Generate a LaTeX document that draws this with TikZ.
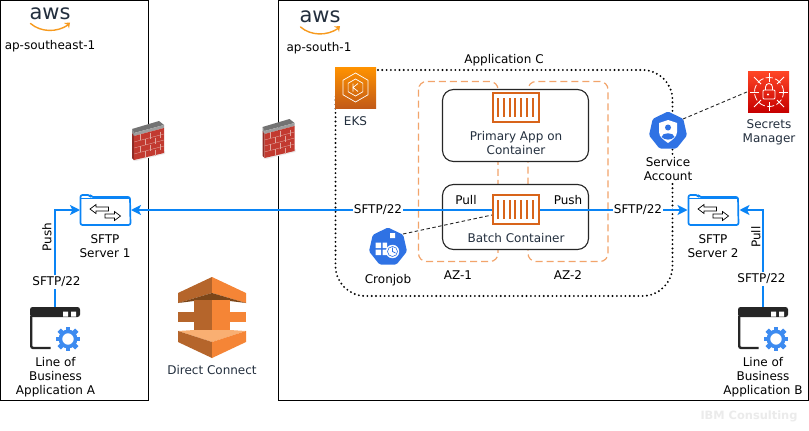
\documentclass[tikz,border=0pt]{standalone}
\usepackage{fontspec}
\setmainfont{DejaVu Sans}
\usetikzlibrary{arrows.meta,calc}
\definecolor{sftpblue}{HTML}{0A84F5}
\definecolor{azorange}{HTML}{F2A46B}
\definecolor{ctr}{HTML}{D8641A}
\definecolor{awsink}{HTML}{232F3E}
\definecolor{k8sblue}{HTML}{2F72E4}
\definecolor{gearblue}{HTML}{3D8BF0}
\definecolor{wink}{HTML}{262626}
\definecolor{dcA}{HTML}{F58536}
\definecolor{dcB}{HTML}{B5652B}
\definecolor{dcC}{HTML}{7C4619}
\definecolor{dcD}{HTML}{F9AF72}
\definecolor{brick}{HTML}{C23A30}
\definecolor{brickd}{HTML}{8E2C26}
\definecolor{mortar}{HTML}{E0A79F}
\definecolor{smile}{HTML}{F79A1E}
\tikzset{
  region/.style={draw=black,line width=1pt},
  dotbox/.style={draw=black,line width=2.1pt,line cap=round,dash pattern=on 0pt off 4.3pt,rounded corners=30pt},
  azbox/.style={draw=azorange,line width=1.2pt,dash pattern=on 7pt off 4pt,rounded corners=8pt},
  appbox/.style={draw=black!85,fill=white,line width=1.1pt,rounded corners=11pt},
  flow/.style={draw=sftpblue,line width=1.7pt},
  tip/.style={-{Stealth[length=10pt,width=10pt,inset=2.5pt]}},
  bitip/.style={{Stealth[length=10pt,width=10pt,inset=2.5pt]}-},
  thin dash/.style={draw=wink,line width=0.9pt,dash pattern=on 3.5pt off 2.5pt},
  lbl/.style={font=\fontsize{12}{14}\selectfont,align=center,inner sep=0pt,text=black},
  awslbl/.style={lbl,text=awsink},
  onwire/.style={lbl,fill=white,inner xsep=0.5pt,inner ysep=1.5pt},
  spot/.style={inner sep=0pt,outer sep=0pt,rectangle},
}
\newcommand{\awslogo}[3]{\begin{scope}[shift={(#2,#3)}]
  \node[inner sep=0pt,text=awsink,font=\fontsize{21}{21}\selectfont] (#1) at (18,9.5) {aws};
  \draw[draw=smile,line width=1.4pt,line cap=round] (-1.5,19.5) .. controls (9,28.5) and (25,28.5) .. (36,21);
  \fill[smile] (32,19) -- (38,18.5) -- (37,24.5) -- (35.8,21) -- cycle;
\end{scope}}
\newcommand{\firewall}[2]{\begin{scope}[shift={(#1,#2)}]
  \fill[black!8] (1,39.5) -- (4,40) -- (33,33) -- (33,30) -- cycle;
  \fill[black!55] (0,8) -- (27,0) -- (32,4) -- (2,12) -- cycle;
  \fill[black!38] (2,12) -- (32,4) -- (32,7) -- (2,15) -- cycle;
  \fill[black!45] (0,8) -- (2,12) -- (2,15) -- (0,12) -- cycle;
  \fill[brickd] (0,12) -- (2,15) -- (2,39) -- (0,37) -- cycle;
  \fill[brick] (2,15) -- (32,7) -- (32,32) -- (2,39) -- cycle;
  \foreach \h in {6,12,18}{\draw[mortar,line width=0.35pt] (2,15+\h) -- (32,7+\h);}
  \foreach \c in {8,18,28}{\draw[mortar,line width=0.35pt] (\c,13.4+\c*-0.1) -- (\c,19.4+\c*-0.1) (\c,25.4+\c*-0.1) -- (\c,31.4+\c*-0.1);}
  \foreach \c in {13,23}{\draw[mortar,line width=0.35pt] (\c,19.5+\c*-0.1) -- (\c,25.5+\c*-0.1) (\c,31.5+\c*-0.1) -- (\c,37.5+\c*-0.1);}
\end{scope}}
\newcommand{\folder}[2]{\begin{scope}[shift={(#1,#2)}]
  \draw[sftpblue,line width=1.7pt,rounded corners=2pt,line join=round] (0.5,5) -- (0.5,1) -- (10,1) -- (11,3) -- (50,3) -- (50.5,31) -- (0.5,31) -- cycle;
  \draw[sftpblue,line width=1.3pt] (1,4.3) -- (50,4.3);
  \draw[black,fill=white,line width=0.7pt] (10,15) -- (16,10.5) -- (16,13) -- (28.5,13) -- (28.5,17) -- (16,17) -- (16,19.5) -- cycle;
  \draw[black,fill=white,line width=0.7pt] (40.5,22) -- (34.5,17.5) -- (34.5,20) -- (25,20) -- (25,24) -- (34.5,24) -- (34.5,26.5) -- cycle;
\end{scope}}
\newcommand{\lobicon}[2]{\begin{scope}[shift={(#1,#2)}]
  \fill[wink,rounded corners=2.5pt] (0,10) -- (0,0) -- (50,0) -- (50,10) -- cycle;
  \draw[wink,line width=2.4pt,rounded corners=2pt] (1.2,9) -- (1.2,41) -- (20.5,41);
  \fill[white] (33,4.5) rectangle (38,9.5) (41,4.5) rectangle (46,9.5);
  \draw[gearblue,line width=3.6pt] (38,32) circle (7.6pt);
  \foreach \a in {0,45,...,315}{\fill[gearblue,rotate around={\a:(38,32)}] (35.6,19.6) rectangle (40.4,25);}
\end{scope}}
\newcommand{\containericon}[2]{\begin{scope}[shift={(#1,#2)}]
  \draw[ctr,line width=2.2pt] (1.2,1.2) rectangle (46.8,30);
  \foreach \c in {6,11.8,...,41}{\draw[ctr,line width=2.1pt] (\c,6) -- (\c,25.2);}
\end{scope}}
\newcommand{\heptagon}[3]{\fill[k8sblue,rounded corners=1.5pt,shift={(#1,#2)}] (90:#3pt) -- (38.6:#3pt) -- (-12.9:#3pt) -- (-64.3:#3pt) -- (-115.7:#3pt) -- (-167.1:#3pt) -- (141.4:#3pt) -- cycle;}
\begin{document}
\begin{tikzpicture}[x=1pt,y=-1pt]
\useasboundingbox (0,0) rectangle (809,431);
\fill[white] (0,0) rectangle (809,431);
% regions
\draw[region] (0.5,0) -- (148.5,0) -- (148.5,400.5) -- (0.5,400.5) -- cycle;
\draw[region] (278.5,0.5) -- (808.5,0.5) -- (808.5,400.5) -- (278.5,400.5) -- cycle;
\draw[dotbox] (335.5,70) rectangle (672.5,296);
\draw[azbox] (418.5,81.5) rectangle (498,261.5);
\draw[azbox] (528,81.5) rectangle (608,261.5);
\draw[appbox] (442.5,89.5) rectangle (588.5,161.5);
\draw[appbox] (442.5,184.5) rectangle (588.5,249.5);
% anchors for icons
\node[spot,minimum width=51pt,minimum height=32pt] (srvA) at (105.5,210) {};
\node[spot,minimum width=52pt,minimum height=32pt] (srvB) at (713.5,210) {};
\node[spot,minimum width=48pt,minimum height=32pt] (batch) at (516,210) {};
\node[spot,minimum width=48pt,minimum height=32pt] (primary) at (516,108) {};
\node[spot,minimum width=50pt,minimum height=42pt] (lobA) at (55,328) {};
\node[spot,minimum width=50pt,minimum height=42pt] (lobB) at (763,328) {};
\node[spot,minimum size=38pt] (cron) at (388,247) {};
\node[spot,minimum size=38pt] (svc) at (668,131) {};
\node[spot,minimum size=41pt] (secrets) at (768.5,91.5) {};
\node[spot,minimum size=41pt] (eks) at (355.5,87.5) {};
% connectors
\draw[flow,bitip] (srvA.east) -- (batch.west);
\draw[flow,tip] (batch.east) -- (srvB.west);
\draw[flow,tip] (lobA.north) |- (srvA.west);
\draw[flow,tip] (lobB.north) |- (srvB.east);
\draw[thin dash] ($(cron.center)+(15,-13)$) -- ($(batch.west)+(0,5)$);
\draw[thin dash] ($(svc.center)+(15,-12)$) -- (secrets.west);
% icons
\awslogo{awsA}{32}{4}
\awslogo{awsB}{302}{7.5}
\firewall{132}{121}
\firewall{262.5}{119}
\folder{80}{194}
\folder{688}{194}
\lobicon{30}{307}
\lobicon{738}{307}
\containericon{492}{92}
\containericon{492}{194}
% direct connect
\fill[dcB] (178,293) -- (212,277) -- (212,293) -- (178,303) -- cycle;
\fill[dcA] (246,293) -- (212,277) -- (212,293) -- (246,303) -- cycle;
\fill[dcC] (178,303) -- (212,293) -- (246,303) -- (230,301) -- (194,301) -- cycle;
\fill[dcB] (194,300) -- (212,300) -- (212,332) -- (194,332) -- cycle;
\fill[dcA] (212,300) -- (230,300) -- (230,332) -- (212,332) -- cycle;
\fill[dcB] (178,312) -- (194,312) -- (194,322) -- (178,322) -- cycle;
\fill[dcA] (230,312) -- (246,312) -- (246,322) -- (230,322) -- cycle;
\fill[dcD] (178,331) -- (194,330) -- (230,330) -- (246,331) -- (212,342) -- cycle;
\fill[dcB] (178,331) -- (212,342) -- (212,358) -- (178,342) -- cycle;
\fill[dcA] (246,331) -- (212,342) -- (212,358) -- (246,342) -- cycle;
% EKS
\shade[bottom color=ctr!90!black,top color=orange!85!yellow] (335,67) rectangle (376,108);
\begin{scope}[shift={(eks.center)},draw=white,line width=0.7pt]
  \draw[white] (90:14.5pt) -- (30:14.5pt) -- (-30:14.5pt) -- (-90:14.5pt) -- (-150:14.5pt) -- (150:14.5pt) -- cycle;
  \draw[white] (90:8.5pt) -- (30:8.5pt) -- (-30:8.5pt) -- (-90:8.5pt) -- (-150:8.5pt) -- (150:8.5pt) -- cycle;
  \draw[white] (-2.5pt,4pt) -- (-2.5pt,-4pt) (2.5pt,4pt) -- (-2.5pt,0pt) -- (2.5pt,-4pt);
\end{scope}
% Secrets manager
\shade[bottom color=red!78!black,top color=red!70!orange!85!white] (748,71) rectangle (789,112);
\begin{scope}[shift={(769,92)},white,line width=0.8pt]
  \draw[white,dash pattern=on 7pt off 2.5pt] (0,0) circle (14.5pt);
  \draw[white] (0pt,19pt) -- (0pt,10pt) (0pt,-19pt) -- (0pt,-10pt) (19pt,0pt) -- (10pt,0pt) (-19pt,0pt) -- (-10pt,0pt);
  \draw[white] (15pt,15pt) -- (8pt,8pt) (-15pt,15pt) -- (-8pt,8pt) (15pt,-15pt) -- (8pt,-8pt) (-15pt,-15pt) -- (-8pt,-8pt);
  \draw[white,fill=none,rounded corners=1pt] (-6pt,-7pt) rectangle (6pt,2pt);
  \draw[white] (-3.5pt,2pt) -- (-3.5pt,5pt) arc[start angle=180,end angle=0,radius=3.5pt] -- (3.5pt,2pt);
  \fill[white] (-1pt,-2.5pt) circle (1.1pt);
\end{scope}
% Service account
\heptagon{668}{131}{19.5}
\begin{scope}[shift={(668,131)}]
  \fill[white] (-9pt,8pt) -- (0pt,11pt) -- (9pt,8pt) -- (9pt,-1pt) .. controls (9pt,-6pt) and (4pt,-9pt) .. (0pt,-12pt) .. controls (-4pt,-9pt) and (-9pt,-6pt) .. (-9pt,-1pt) -- cycle;
  \fill[k8sblue] (0pt,3.5pt) circle (3pt);
  \fill[k8sblue] (-6.5pt,-6pt) .. controls (-6pt,-1pt) and (6pt,-1pt) .. (6.5pt,-6pt) .. controls (3pt,-9.5pt) and (-3pt,-9.5pt) .. (-6.5pt,-6pt) -- cycle;
\end{scope}
% Cronjob
\heptagon{388}{247}{19.5}
\begin{scope}[shift={(388,247)}]
  \fill[white] (-12.5pt,4.5pt) rectangle (-7pt,-1pt) (-12.5pt,-2.5pt) rectangle (-7pt,-8pt) (-5.5pt,-2.5pt) rectangle (-1pt,-8pt) (-5.5pt,4.5pt) rectangle (-1pt,-1pt) (2pt,14pt) rectangle (7pt,9pt);
  \draw[white,fill=white] (4.5pt,-4.5pt) circle (6.5pt);
  \draw[k8sblue,line width=0.6pt] (4.5pt,-4.5pt) circle (5pt);
  \draw[k8sblue,line width=0.7pt] (4.5pt,-0.5pt) -- (4.5pt,-4.5pt) -- (7.5pt,-6pt);
\end{scope}
% labels
\node[lbl] (regA) at (50,46) {ap-southeast-1};
\node[lbl] (regB) at (319,48) {ap-south-1};
\node[lbl,fill=white,inner xsep=2pt] (appC) at (504,60) {Application C};
\node[awslbl] (eksL) at (355.5,121) {EKS};
\node[awslbl] (primL) at (516,143) {Primary App on\\Container};
\node[awslbl] (batchL) at (516,238) {Batch Container};
\node[lbl] (pullC) at (466,200) {Pull};
\node[lbl] (pushC) at (568,200) {Push};
\node[onwire] (wire1) at (378,210) {SFTP/22};
\node[onwire] (wire2) at (638,210) {SFTP/22};
\node[onwire] (wire3) at (56.5,282) {SFTP/22};
\node[onwire] (wire4) at (761.5,279) {SFTP/22};
\node[lbl,rotate=90] (pushL) at (47,237) {Push};
\node[lbl,rotate=90] (pullR) at (756,237) {Pull};
\node[lbl] (srvAL) at (105,246) {SFTP\\Server 1};
\node[lbl] (srvBL) at (713,246) {SFTP\\Server 2};
\node[lbl] (lobAL) at (55.5,377.5) {Line of\\Business\\Application A};
\node[lbl] (lobBL) at (763,377.5) {Line of\\Business\\Application B};
\node[awslbl] (dcL) at (212,370) {Direct Connect};
\node[lbl,fill=white,inner ysep=1pt] (cronL) at (388,280) {Cronjob};
\node[lbl] (az1) at (458,275) {AZ-1};
\node[lbl] (az2) at (568,275) {AZ-2};
\node[lbl,fill=white,inner ysep=1pt] (svcL) at (668,169) {Service\\Account};
\node[awslbl] (secL) at (769,132) {Secrets\\Manager};
\node[lbl,text=black!8,font=\fontsize{11.4}{14}\selectfont\bfseries] (ibm) at (749,416) {IBM Consulting};
\end{tikzpicture}
\end{document}
